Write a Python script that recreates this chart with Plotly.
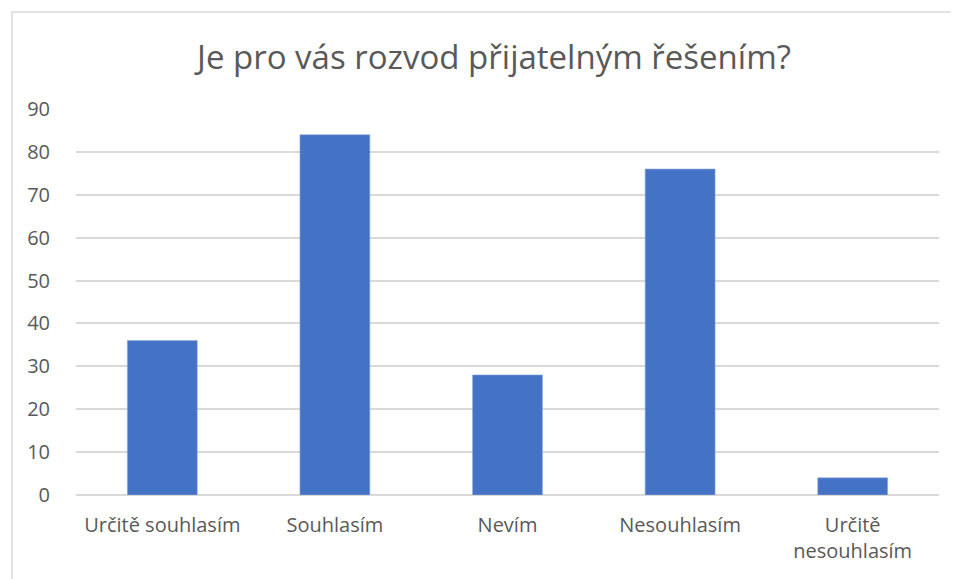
import plotly.graph_objects as go

categories = ['Určitě souhlasím', 'Souhlasím', 'Nevím', 'Nesouhlasím', 'Určitě<br>nesouhlasím']
values = [36, 84, 28, 76, 4]
y_ticks = [0, 10, 20, 30, 40, 50, 60, 70, 80, 90]

FONT = 'Open Sans'
TEXT = '#595959'

fig = go.Figure(
	data=[
		go.Bar(
			x=categories,
			y=values,
			marker=dict(color='#4472C4', line=dict(color='#8FAADC', width=0.6)),
			width=0.405,
		)
	]
)

fig.update_layout(
	width=959,
	height=579,
	paper_bgcolor='white',
	plot_bgcolor='white',
	showlegend=False,
	margin=dict(l=68, r=28, t=101, b=92),
	font=dict(family=FONT, color=TEXT, size=20),
	title=dict(
		text='Je pro vás rozvod přijatelným řešením?',
		x=486 / 959, xanchor='center',
		y=1 - 49 / 579, yanchor='middle',
		font=dict(family=FONT, size=33, color=TEXT),
	),
	xaxis=dict(
		showgrid=False, zeroline=False, showline=False,
		ticks='', ticklabelstandoff=16,
		tickfont=dict(size=20, color=TEXT),
	),
	yaxis=dict(
		range=[0, 90], tickvals=y_ticks,
		showgrid=True, gridcolor='#D9D9D9', gridwidth=1.5,
		zeroline=True, zerolinecolor='#D9D9D9', zerolinewidth=1.5,
		showline=False, ticks='', ticklabelstandoff=25,
		tickfont=dict(size=20, color=TEXT),
	),
	shapes=[
		# outer chart border (only the top/left show inside the crop)
		dict(type='rect', xref='paper', yref='paper',
			x0=-64 / 863, x1=1.05, y0=-0.3, y1=483 / 386,
			line=dict(color='#D9D9D9', width=1.5), layer='below'),
	],
)

fig.write_html('out.html')
